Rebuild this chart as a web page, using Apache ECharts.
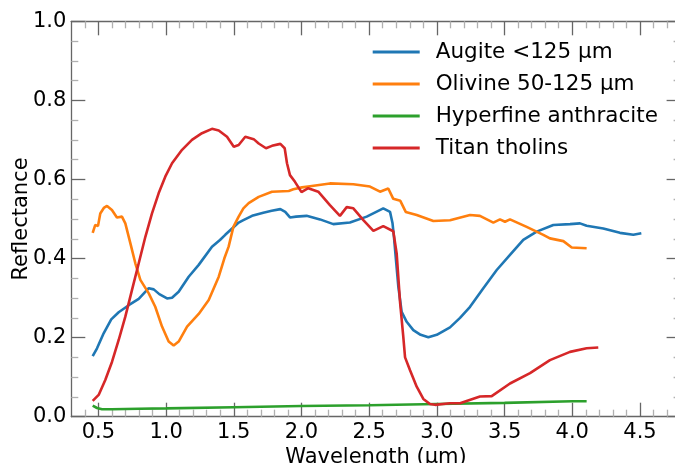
<!DOCTYPE html>
<html>
<head>
<meta charset="utf-8">
<script src="https://cdn.jsdelivr.net/npm/echarts@6/dist/echarts.min.js"></script>
<style>
html,body{margin:0;padding:0;background:#fff;}
#chart{width:675px;height:463px;}
</style>
</head>
<body>
<div id="chart"></div>
<script>
const seriesNames = ['Augite <125 μm', 'Olivine 50-125 μm', 'Hyperfine anthracite', 'Titan tholins'];
const seriesColors = ['#1f77b4', '#ff7f0e', '#2ca02c', '#d62728'];

const augite = [[0.458,0.153],[0.49,0.173],[0.539,0.211],[0.595,0.246],[0.65,0.264],[0.724,0.282],[0.798,0.298],[0.872,0.325],[0.909,0.322],[0.95,0.31],[1.007,0.299],[1.044,0.301],[1.093,0.316],[1.167,0.354],[1.241,0.384],[1.339,0.43],[1.398,0.447],[1.437,0.46],[1.536,0.491],[1.571,0.497],[1.635,0.508],[1.718,0.516],[1.78,0.521],[1.844,0.525],[1.88,0.518],[1.915,0.504],[1.96,0.506],[2.038,0.508],[2.137,0.499],[2.235,0.487],[2.358,0.491],[2.482,0.506],[2.604,0.527],[2.654,0.518],[2.672,0.49],[2.683,0.455],[2.698,0.396],[2.715,0.33],[2.74,0.265],[2.777,0.24],[2.826,0.219],[2.88,0.207],[2.937,0.201],[2.999,0.207],[3.097,0.226],[3.171,0.25],[3.245,0.278],[3.343,0.325],[3.442,0.371],[3.54,0.409],[3.638,0.447],[3.737,0.468],[3.86,0.485],[3.983,0.487],[4.057,0.489],[4.106,0.483],[4.229,0.476],[4.352,0.465],[4.451,0.46],[4.51,0.464]];

const olivine = [[0.458,0.465],[0.477,0.485],[0.497,0.482],[0.514,0.514],[0.54,0.528],[0.564,0.533],[0.6,0.523],[0.637,0.504],[0.674,0.506],[0.699,0.489],[0.736,0.439],[0.773,0.388],[0.81,0.346],[0.872,0.312],[0.92,0.278],[0.97,0.228],[1.019,0.19],[1.056,0.18],[1.093,0.19],[1.155,0.228],[1.241,0.26],[1.315,0.295],[1.389,0.354],[1.43,0.4],[1.462,0.43],[1.497,0.48],[1.536,0.506],[1.571,0.527],[1.61,0.54],[1.684,0.556],[1.782,0.569],[1.906,0.571],[1.94,0.575],[2.004,0.58],[2.063,0.583],[2.21,0.59],[2.383,0.588],[2.506,0.582],[2.58,0.569],[2.641,0.577],[2.678,0.551],[2.73,0.546],[2.77,0.518],[2.851,0.51],[2.974,0.495],[3.097,0.497],[3.245,0.51],[3.318,0.508],[3.417,0.491],[3.466,0.499],[3.503,0.493],[3.54,0.499],[3.663,0.48],[3.786,0.46],[3.835,0.451],[3.934,0.444],[3.996,0.428],[4.106,0.426]];

const anthracite = [[0.458,0.028],[0.49,0.022],[0.527,0.019],[0.6,0.019],[0.8,0.02],[1.0,0.021],[1.5,0.024],[2.0,0.027],[2.5,0.029],[3.0,0.032],[3.5,0.035],[4.0,0.039],[4.106,0.039]];

const tholins = [[0.458,0.04],[0.502,0.055],[0.551,0.093],[0.601,0.139],[0.65,0.194],[0.699,0.253],[0.748,0.32],[0.798,0.388],[0.847,0.455],[0.896,0.514],[0.945,0.565],[0.994,0.607],[1.044,0.641],[1.118,0.675],[1.191,0.7],[1.265,0.717],[1.339,0.728],[1.389,0.724],[1.45,0.708],[1.5,0.683],[1.536,0.687],[1.585,0.708],[1.647,0.702],[1.684,0.691],[1.738,0.679],[1.782,0.685],[1.844,0.69],[1.876,0.679],[1.893,0.641],[1.915,0.611],[1.952,0.594],[2.0,0.568],[2.05,0.578],[2.124,0.569],[2.21,0.535],[2.284,0.508],[2.334,0.53],[2.383,0.527],[2.457,0.497],[2.531,0.47],[2.604,0.482],[2.678,0.469],[2.703,0.413],[2.728,0.29],[2.752,0.202],[2.765,0.15],[2.801,0.118],[2.851,0.076],[2.9,0.045],[2.949,0.032],[2.986,0.03],[3.097,0.034],[3.171,0.034],[3.318,0.051],[3.405,0.052],[3.54,0.084],[3.688,0.11],[3.835,0.143],[3.983,0.164],[4.106,0.173],[4.192,0.175]];

const xMajorTicks = [0.5, 1.0, 1.5, 2.0, 2.5, 3.0, 3.5, 4.0, 4.5];
const xMinorTicks = [0.4, 0.6, 0.7, 0.8, 0.9, 1.1, 1.2, 1.3, 1.4, 1.6, 1.7, 1.8, 1.9, 2.1, 2.2, 2.3, 2.4, 2.6, 2.7, 2.8, 2.9, 3.1, 3.2, 3.3, 3.4, 3.6, 3.7, 3.8, 3.9, 4.1, 4.2, 4.3, 4.4, 4.6, 4.7];
const xRange = [0.3, 4.8];
const yRange = [0, 1];
const yStep = 0.2;

const FONT = 'DejaVu Sans';
const FS = 21;
const AX = '#666666';
const MINOR = '#b0b0b0';

function xAxisDef(position, ticks, len, color, showLabel, showLine, name) {
  return {
    type: 'value', gridIndex: 0, position: position,
    min: xRange[0], max: xRange[1],
    name: name || '', nameLocation: 'middle', nameGap: 30, nameMoveOverlap: false,
    nameTextStyle: {fontFamily: FONT, fontSize: FS, color: '#000'},
    axisLine: {show: showLine, onZero: false, lineStyle: {color: AX, width: 1.3}},
    axisTick: {show: true, inside: true, length: len, customValues: ticks, lineStyle: {color: color, width: 1.3}},
    axisLabel: {show: showLabel, customValues: ticks, margin: 5, fontFamily: FONT, fontSize: FS, color: '#000',
      formatter: v => Number(v).toFixed(1)},
    splitLine: {show: false},
    minorTick: {show: false}
  };
}

function yAxisDef(position, showLabel, name) {
  return {
    type: 'value', gridIndex: 0, position: position,
    min: yRange[0], max: yRange[1], interval: yStep,
    name: name || '', nameLocation: 'middle', nameGap: 39, nameMoveOverlap: false,
    nameTextStyle: {fontFamily: FONT, fontSize: FS, color: '#000'},
    axisLine: {show: true, onZero: false, lineStyle: {color: AX, width: 1.3}},
    axisTick: {show: true, inside: true, length: 14, lineStyle: {color: AX, width: 1.3}},
    minorTick: {show: true, splitNumber: 4, length: 7, lineStyle: {color: MINOR, width: 1.3}},
    axisLabel: {show: showLabel, margin: 5, fontFamily: FONT, fontSize: FS, color: '#000',
      formatter: v => Number(v).toFixed(1)},
    splitLine: {show: false}
  };
}

const allData = [augite, olivine, anthracite, tholins];

const chart = echarts.init(document.getElementById('chart'), null, {renderer: 'canvas'});
chart.setOption({
  animation: false,
  backgroundColor: '#fff',
  grid: {left: 71.3, top: 21.3, right: -5.6, bottom: 46.3, containLabel: false, outerBoundsMode: 'none'},
  legend: {
    orient: 'vertical', left: 372.7, top: 41, padding: 0,
    icon: 'rect', itemWidth: 47, itemHeight: 3, itemGap: 10,
    textStyle: {fontFamily: FONT, fontSize: 21.5, color: '#000', lineHeight: 22, padding: [0, 0, 0, 11]},
    data: seriesNames
  },
  xAxis: [
    xAxisDef('bottom', xMajorTicks, 14, AX, true, true, 'Wavelength (μm)'),
    xAxisDef('bottom', xMinorTicks, 7, MINOR, false, false),
    xAxisDef('top', xMajorTicks, 14, AX, false, true),
    xAxisDef('top', xMinorTicks, 7, MINOR, false, false)
  ],
  yAxis: [
    yAxisDef('left', true, 'Reflectance'),
    yAxisDef('right', false)
  ],
  series: seriesNames.map((n, i) => ({
    name: n, type: 'line', xAxisIndex: 0, yAxisIndex: 0,
    data: allData[i], showSymbol: false, symbol: 'none',
    lineStyle: {color: seriesColors[i], width: 2.6},
    itemStyle: {color: seriesColors[i]},
    z: 2 + (i === 2 ? 0 : 1)
  }))
});
</script>
</body>
</html>
